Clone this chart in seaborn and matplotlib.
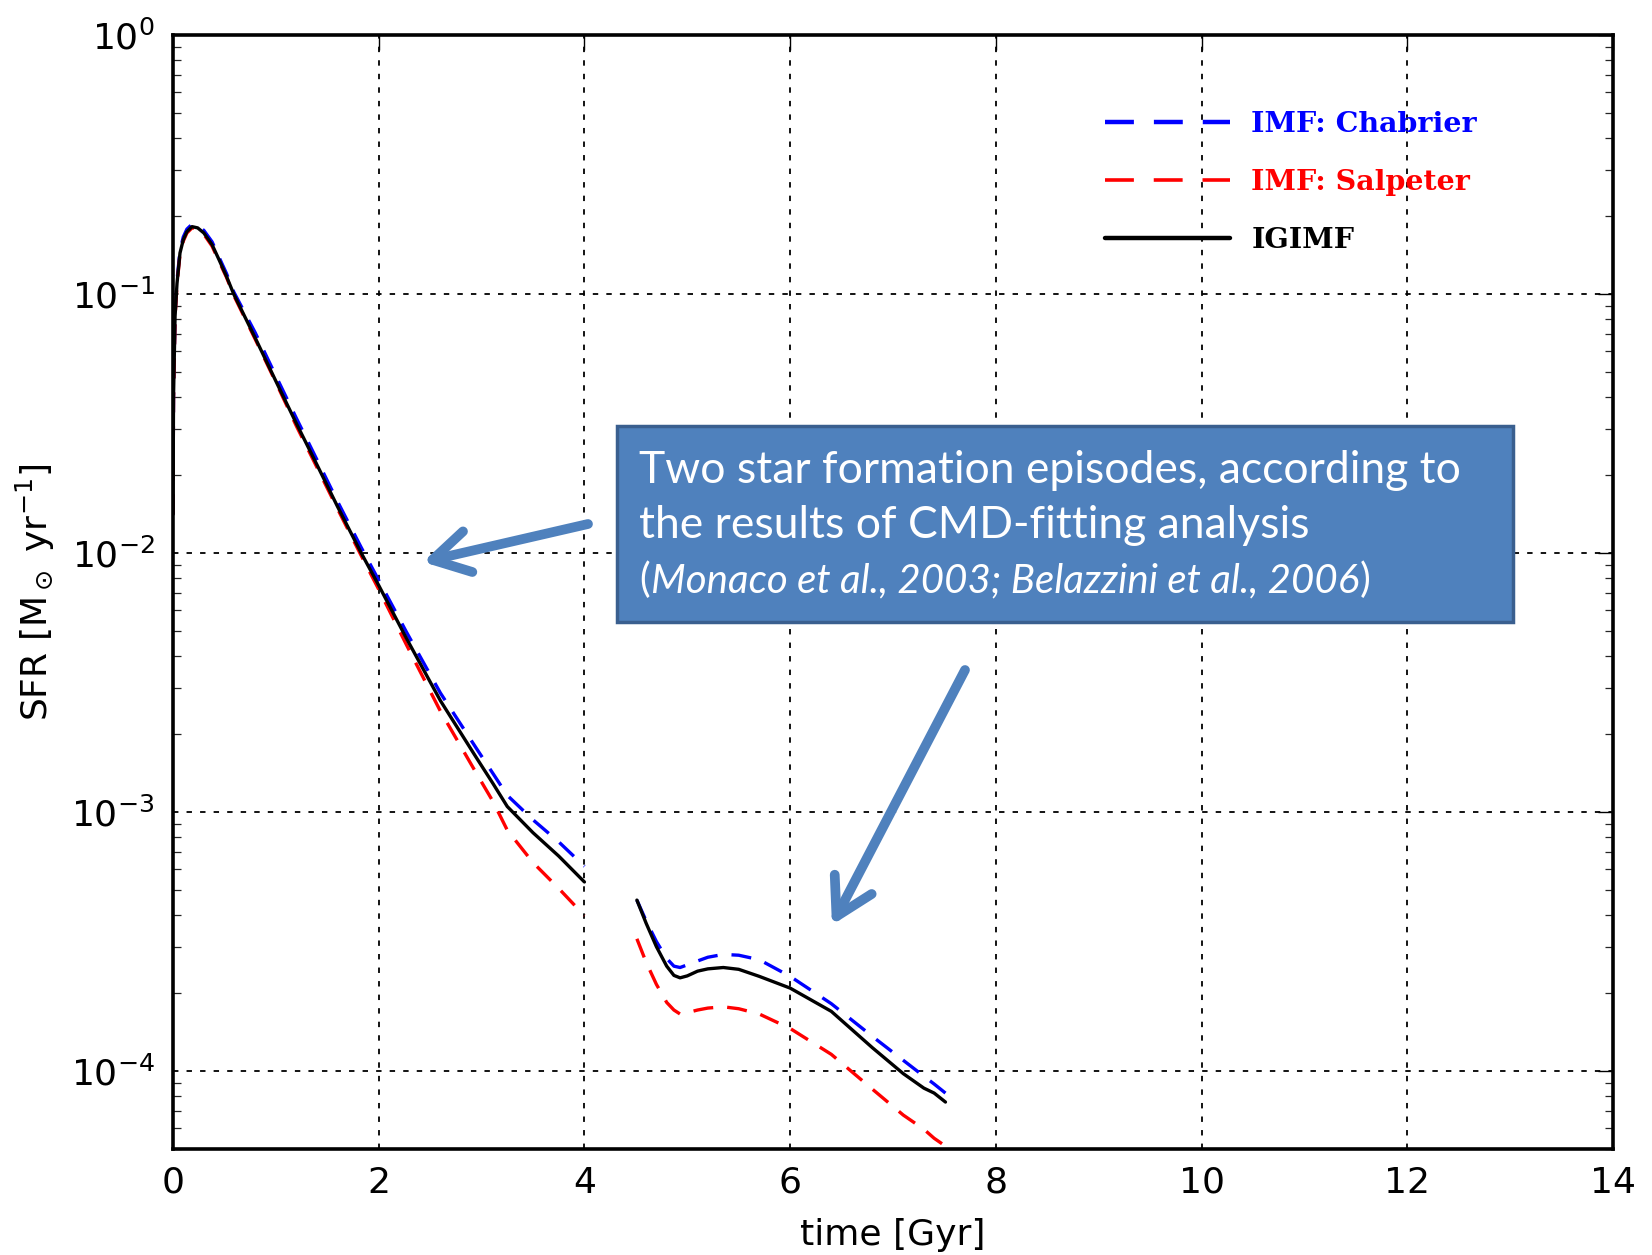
import numpy as np
import pandas as pd
import matplotlib
matplotlib.use("Agg")
import matplotlib.pyplot as plt
import seaborn as sns
from matplotlib.patches import Rectangle, FancyArrowPatch
from matplotlib.lines import Line2D
from matplotlib.ticker import LogLocator, FixedLocator, NullFormatter

# ---------------- data ----------------
t_ep1 = [0.0, 0.005, 0.02, 0.039, 0.068, 0.10, 0.135, 0.185, 0.24, 0.30, 0.38, 0.45,
         0.52, 0.59, 0.80, 1.0, 1.2, 1.4, 1.6, 1.83, 2.0, 2.27, 2.6, 2.95, 3.11, 3.25,
         3.5, 3.75, 4.0]
sfr_igimf_ep1 = [0.0141, 0.040, 0.082, 0.110, 0.144, 0.162, 0.174, 0.182, 0.180, 0.172,
                 0.155, 0.135, 0.117, 0.100, 0.0676, 0.0461, 0.0316, 0.0219, 0.0151,
                 0.0100, 0.0075, 0.00468, 0.00269, 0.00162, 0.00129, 0.00105, 0.000832,
                 0.000676, 0.000537]
sfr_chab_ep1 = [0.0141, 0.041, 0.084, 0.113, 0.147, 0.166, 0.178, 0.186, 0.184, 0.176,
                0.159, 0.138, 0.120, 0.102, 0.0708, 0.0483, 0.0331, 0.0229, 0.0158,
                0.0105, 0.00785, 0.00495, 0.00288, 0.00176, 0.00141, 0.00116, 0.000933,
                0.000767, 0.000617]
sfr_salp_ep1 = [0.0141, 0.0396, 0.081, 0.109, 0.142, 0.160, 0.172, 0.180, 0.178, 0.170,
                0.153, 0.133, 0.116, 0.0989, 0.0668, 0.0456, 0.0309, 0.0214, 0.0148,
                0.00977, 0.00724, 0.00442, 0.00245, 0.00141, 0.00110, 0.000851,
                0.000638, 0.000507, 0.000398]

t_ep2 = [4.51, 4.6, 4.7, 4.8, 4.87, 4.93, 5.0, 5.1, 5.2, 5.35, 5.5, 5.7, 6.0, 6.4, 6.8,
         7.1, 7.3, 7.4, 7.51]
sfr_igimf_ep2 = [4.57e-4, 3.72e-4, 3.02e-4, 2.54e-4, 2.34e-4, 2.29e-4, 2.33e-4, 2.43e-4,
                 2.48e-4, 2.51e-4, 2.47e-4, 2.32e-4, 2.09e-4, 1.70e-4, 1.23e-4, 9.77e-5,
                 8.59e-5, 8.22e-5, 7.59e-5]
sfr_chab_ep2 = [4.57e-4, 3.80e-4, 3.16e-4, 2.72e-4, 2.54e-4, 2.51e-4, 2.57e-4, 2.66e-4,
                2.75e-4, 2.82e-4, 2.80e-4, 2.69e-4, 2.32e-4, 1.82e-4, 1.36e-4, 1.10e-4,
                9.55e-5, 8.91e-5, 8.22e-5]
sfr_salp_ep2 = [3.24e-4, 2.63e-4, 2.16e-4, 1.84e-4, 1.72e-4, 1.66e-4, 1.68e-4, 1.72e-4,
                1.75e-4, 1.77e-4, 1.74e-4, 1.66e-4, 1.46e-4, 1.16e-4, 8.51e-5, 6.76e-5,
                5.96e-5, 5.50e-5, 5.13e-5]

legend_labels = ["IMF: Chabrier", "IMF: Salpeter", "IGIMF"]
x_ticks = [0, 2, 4, 6, 8, 10, 12, 14]
xlabel = "time [Gyr]"
ylabel = r"SFR [M$_\odot$ yr$^{-1}$]"
note_line1 = "Two star formation episodes, according to"
note_line2 = "the results of CMD-fitting analysis"
note_line3 = "Monaco et al., 2003; Belazzini et al., 2006"

# ---------------- style ----------------
sns.set_theme(style="white")
plt.rcParams["font.family"] = ["DejaVu Sans"]
plt.rcParams["mathtext.fontset"] = "dejavusans"

W, H = 1652, 1255
fig = plt.figure(figsize=(W / 100, H / 100), dpi=100)
fig.patch.set_facecolor("white")
ax = fig.add_axes([173 / W, 1 - 1149 / H, (1613 - 173) / W, (1149 - 35) / H])
ax.set_facecolor("white")

dash = (0, (6, 4.2))
lw = 2.4
series = [
    (t_ep1, sfr_chab_ep1, "#0000ff", dash),
    (t_ep2, sfr_chab_ep2, "#0000ff", dash),
    (t_ep1, sfr_salp_ep1, "#ff0000", dash),
    (t_ep2, sfr_salp_ep2, "#ff0000", dash),
    (t_ep1, sfr_igimf_ep1, "black", "-"),
    (t_ep2, sfr_igimf_ep2, "black", "-"),
]
for tx, vy, col, ls in series:
    df = pd.DataFrame({"t": tx, "sfr": vy})
    sns.lineplot(data=df, x="t", y="sfr", ax=ax, color=col, lw=lw,
                 estimator=None, sort=False, legend=False)
    ln = ax.get_lines()[-1]
    ln.set_linestyle(ls)
    ln.set_solid_joinstyle("round")
    ln.set_dash_joinstyle("round")

ax.set_yscale("log")
ax.set_ylim(5e-5, 1)
ax.set_xlim(0, 14)
ax.xaxis.set_major_locator(FixedLocator(x_ticks))
ax.yaxis.set_major_locator(LogLocator(base=10, numticks=10))
ax.yaxis.set_minor_locator(LogLocator(base=10, subs=np.arange(2, 10), numticks=20))
ax.yaxis.set_minor_formatter(NullFormatter())

ax.grid(True, which="major", color="black", linestyle=(0, (3, 4.5)), lw=1.3)
for s in ax.spines.values():
    s.set_linewidth(2.6)
    s.set_color("black")
    s.set_visible(True)
ax.tick_params(which="major", direction="in", length=11, width=1.0, top=True,
               right=True, labelsize=26, colors="black", pad=12)
ax.tick_params(which="minor", direction="in", length=5.5, width=0.9, top=True,
               right=True, left=True, bottom=False)
ax.tick_params(axis="y", which="major", pad=13)

ax.set_xlabel(xlabel, fontsize=26, labelpad=13, color="black")
ax.set_ylabel(ylabel, fontsize=26, labelpad=10, color="black")

# legend
handles = [
    Line2D([], [], color="#0000ff", lw=3.2, linestyle=(0, (6.5, 4.5))),
    Line2D([], [], color="#ff0000", lw=2.6, linestyle=(0, (8, 5.5))),
    Line2D([], [], color="black", lw=3.2, linestyle="-"),
]
leg = ax.legend(handles, legend_labels, loc="upper left", bbox_to_anchor=(0.637, 0.945),
                frameon=False, prop={"family": "DejaVu Serif", "size": 20.5, "weight": "bold"},
                handlelength=4.4, handletextpad=0.75, labelspacing=1.1, borderpad=0)
for txt, col in zip(leg.get_texts(), ["#0000ff", "#ff0000", "black"]):
    txt.set_color(col)

# annotation box
def fx(px):
    return px / W

def fy(py):
    return 1 - py / H

box_l, box_t, box_r, box_b = 617, 426, 1513, 622
fig.patches.append(Rectangle((fx(box_l), fy(box_b)), fx(box_r - box_l), (box_b - box_t) / H,
                             transform=fig.transFigure, facecolor="#4F81BD",
                             edgecolor="#3A5F8F", lw=2.5, zorder=5))
note_font = "Lato"
fig.text(fx(639), fy(483), note_line1, color="white", fontsize=32, family=note_font,
         va="baseline", ha="left", zorder=6)
fig.text(fx(639), fy(538), note_line2, color="white", fontsize=32, family=note_font,
         va="baseline", ha="left", zorder=6)
renderer = fig.canvas.get_renderer()
x_cur = 639
for piece, style in [("(", "normal"), (note_line3, "italic"), (")", "normal")]:
    tt = fig.text(fx(x_cur), fy(592), piece, color="white", fontsize=29, family=note_font,
                  style=style, va="baseline", ha="left", zorder=6)
    bb = tt.get_window_extent(renderer=renderer)
    x_cur += bb.width + 1

# arrows (figure pixel coordinates)
arrow_col = "#4F81BD"
for (x0, y0), (x1, y1) in [((588, 524), (423, 562)), ((965, 670), (832, 925))]:
    fig.add_artist(FancyArrowPatch(
        (x0, H - y0), (x1, H - y1), transform=None,
        arrowstyle="->,head_length=2.6,head_width=1.5", mutation_scale=10,
        color=arrow_col, lw=7, capstyle="round", joinstyle="round",
        shrinkA=0, shrinkB=0, zorder=7))

fig.savefig("out.png", dpi=100, facecolor="white")
